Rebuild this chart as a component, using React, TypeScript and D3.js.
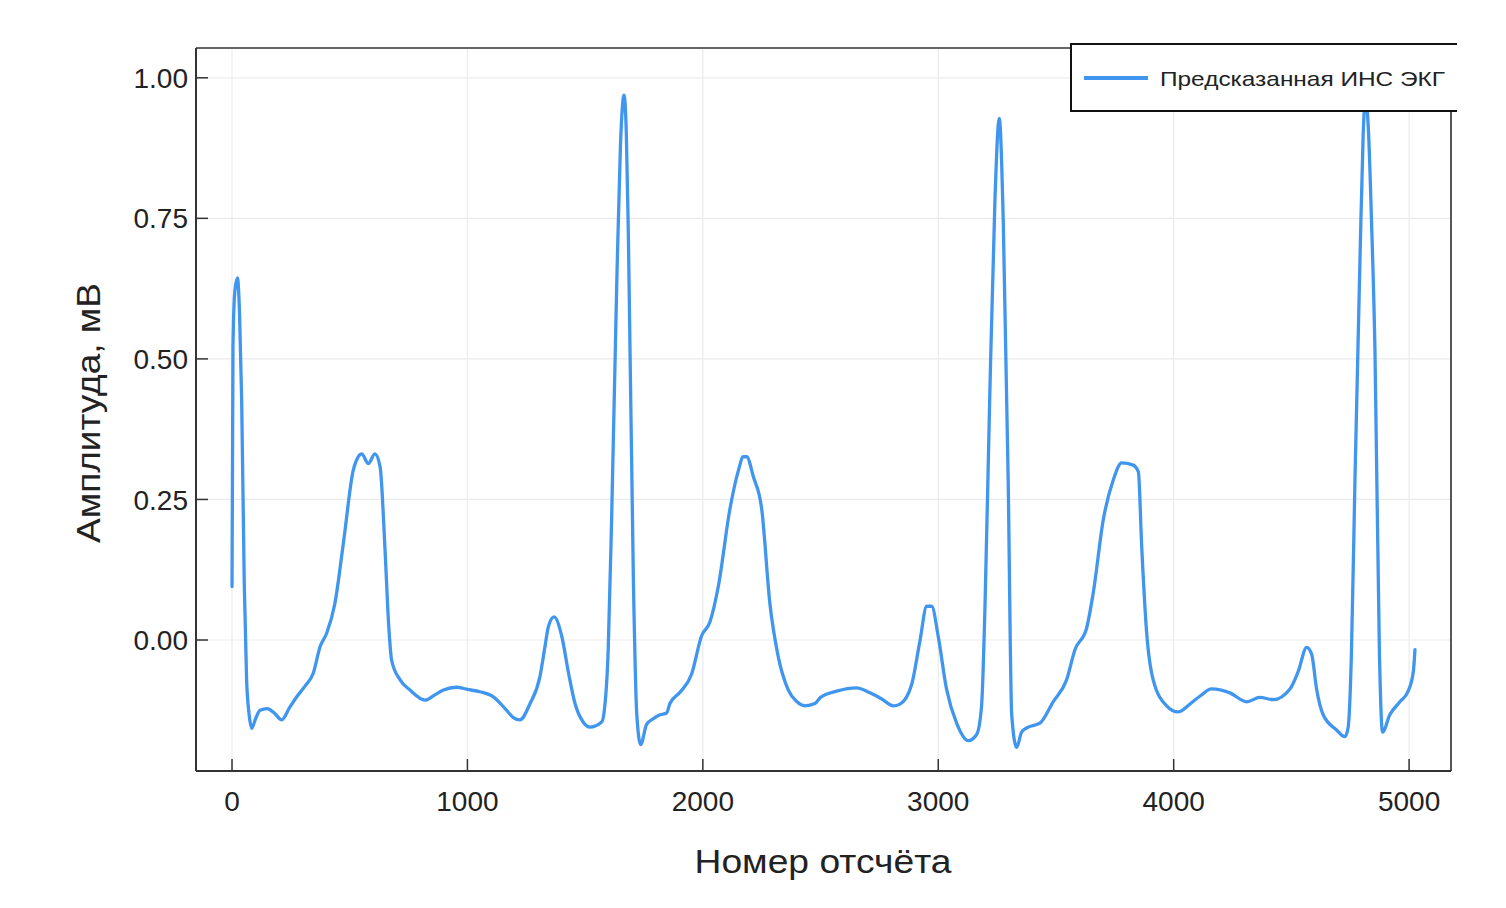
import React from "react";
import * as d3 from "d3";

const sampleIdx = [
  0, 4, 12, 23, 32, 41, 52, 62, 72, 84, 100, 119, 150, 180, 211, 245, 275, 310, 345, 374, 402, 437, 473, 515, 535, 551, 579, 607, 629, 650, 665, 678, 714, 756, 820, 860, 898, 954, 1000,
  1053, 1110, 1160, 1195, 1223, 1266, 1308, 1330, 1344, 1368, 1400, 1430, 1457, 1490, 1521, 1570, 1580, 1598, 1613, 1634, 1650, 1665, 1675, 1684, 1705, 1719, 1736, 1761, 1790, 1818, 1846, 1860, 1903, 1952, 1995,
  2030, 2066, 2115, 2150, 2172, 2186, 2215, 2250, 2285, 2318, 2363, 2400, 2434, 2476, 2500, 2568, 2653, 2710, 2760, 2809, 2837, 2887, 2922, 2951, 2972,
  3000, 3035, 3078, 3127, 3163, 3184, 3198, 3219, 3241, 3259, 3276, 3297, 3312, 3333, 3354, 3382, 3432, 3488, 3545, 3581, 3630, 3658, 3701, 3743, 3779, 3828, 3850, 3864, 3885, 3913, 3970,
  4019, 4069, 4111, 4161, 4239, 4310, 4366, 4423, 4494, 4529, 4565, 4586, 4607, 4635, 4692, 4727, 4741, 4755, 4770, 4791, 4805, 4815, 4828, 4840, 4855, 4874, 4887, 4918, 4961, 4996, 5018, 5025,
];

const amplitude = [
  0.095, 0.52, 0.62, 0.644, 0.58, 0.427, 0.1, -0.071, -0.13, -0.157, -0.14, -0.125, -0.122, -0.13, -0.142, -0.12, -0.101, -0.082, -0.059, -0.012, 0.012, 0.065, 0.172, 0.302, 0.325, 0.331, 0.314, 0.331, 0.308, 0.16, 0.03, -0.036, -0.071, -0.089, -0.107, -0.098, -0.089, -0.084, -0.088,
  -0.092, -0.101, -0.122, -0.138, -0.142, -0.113, -0.065, -0.01, 0.024, 0.041, 0.008, -0.06, -0.113, -0.145, -0.155, -0.146, -0.13, -0.017, 0.225, 0.629, 0.88, 0.969, 0.9, 0.709, 0.104, -0.13, -0.186, -0.15, -0.14, -0.133, -0.13, -0.113, -0.093, -0.061, 0.008,
  0.032, 0.096, 0.233, 0.3, 0.326, 0.326, 0.29, 0.233, 0.064, -0.025, -0.089, -0.11, -0.117, -0.113, -0.102, -0.091, -0.085, -0.094, -0.105, -0.117, -0.114, -0.079, -0.002, 0.06, 0.06,
  0.006, -0.087, -0.148, -0.179, -0.168, -0.117, 0.052, 0.438, 0.786, 0.928, 0.747, 0.284, -0.133, -0.191, -0.164, -0.155, -0.148, -0.11, -0.071, -0.017, 0.021, 0.083, 0.214, 0.284, 0.315, 0.311, 0.299, 0.168, 0.014, -0.071, -0.117,
  -0.128, -0.114, -0.1, -0.087, -0.094, -0.11, -0.102, -0.106, -0.087, -0.056, -0.013, -0.025, -0.087, -0.133, -0.16, -0.172, -0.156, -0.025, 0.284, 0.67, 0.9, 0.965, 0.9, 0.75, 0.515, -0.025, -0.164, -0.133, -0.11, -0.091, -0.056, -0.017,
];

const xTicks = [0, 1000, 2000, 3000, 4000, 5000];
const yTicks = [0, 0.25, 0.5, 0.75, 1.0];
const seriesName = "Предсказанная ИНС ЭКГ";
const xTitle = "Номер отсчёта";
const yTitle = "Амплитуда, мВ";

export default function App() {
  const W = 1506, H = 908;
  const left = 196, right = 1451, top = 48, bottom = 771;
  const x = d3.scaleLinear().domain([-153, 5178]).range([left, right]);
  const y = d3.scaleLinear().domain([-0.233, 1.053]).range([bottom, top]);
  const pts = sampleIdx.map((s, i) => [s, amplitude[i]] as [number, number]);
  const line = d3.line<[number, number]>().x(d => x(d[0])).y(d => y(d[1])).curve(d3.curveMonotoneX);
  const font = "'Liberation Sans', Arial, sans-serif";
  const color = "#4096EE";

  return (
    <svg width={W} height={H} style={{ position: "absolute", left: 0, top: 0, background: "#fff" }} fontFamily={font}>
      <rect x={0} y={0} width={W} height={H} fill="#fff" />
      {/* grid */}
      {xTicks.map(t => (
        <line key={"gx" + t} x1={x(t)} x2={x(t)} y1={top} y2={bottom} stroke="#ebebeb" strokeWidth={1.2} />
      ))}
      {yTicks.map(t => (
        <line key={"gy" + t} x1={left} x2={right} y1={y(t)} y2={y(t)} stroke="#ebebeb" strokeWidth={1.2} />
      ))}
      {/* data */}
      <path d={line(pts) || ""} fill="none" stroke={color} strokeWidth={3.3} strokeLinejoin="round" strokeLinecap="round" />
      {/* frame */}
      <line x1={left} x2={right} y1={top} y2={top} stroke="#666" strokeWidth={1.8} />
      <line x1={right} x2={right} y1={top} y2={bottom} stroke="#444" strokeWidth={1.8} />
      <line x1={left} x2={left} y1={top} y2={bottom} stroke="#333" strokeWidth={2} />
      <line x1={left} x2={right} y1={bottom} y2={bottom} stroke="#333" strokeWidth={2} />
      {/* ticks */}
      {xTicks.map(t => (
        <line key={"tx" + t} x1={x(t)} x2={x(t)} y1={bottom} y2={bottom - 12} stroke="#333" strokeWidth={1.5} />
      ))}
      {yTicks.map(t => (
        <line key={"ty" + t} x1={left} x2={left + 12} y1={y(t)} y2={y(t)} stroke="#333" strokeWidth={1.5} />
      ))}
      {/* tick labels */}
      {xTicks.map(t => (
        <text key={"lx" + t} x={x(t)} y={811} textAnchor="middle" fontSize={28} fill="#222">{String(t)}</text>
      ))}
      {yTicks.map(t => (
        <text key={"ly" + t} x={188} y={y(t)} dy="0.36em" textAnchor="end" fontSize={28} fill="#222">{t.toFixed(2)}</text>
      ))}
      {/* axis titles */}
      <text x={823} y={873} textAnchor="middle" fontSize={33} fill="#222" textLength={257} lengthAdjust="spacingAndGlyphs">{xTitle}</text>
      <text transform="translate(100,413) rotate(-90)" textAnchor="middle" fontSize={33} fill="#222" textLength={260} lengthAdjust="spacingAndGlyphs">{yTitle}</text>
      {/* legend */}
      <rect x={1071} y={44} width={386} height={67} fill="#fff" />
      <path d="M1457,44 H1071 V111 H1457" fill="none" stroke="#111" strokeWidth={2} />
      <line x1={1084} x2={1148} y1={78} y2={78} stroke={color} strokeWidth={4} />
      <text x={1160} y={79} dy="0.35em" fontSize={21} fill="#222" textLength={285} lengthAdjust="spacingAndGlyphs">{seriesName}</text>
    </svg>
  );
}
